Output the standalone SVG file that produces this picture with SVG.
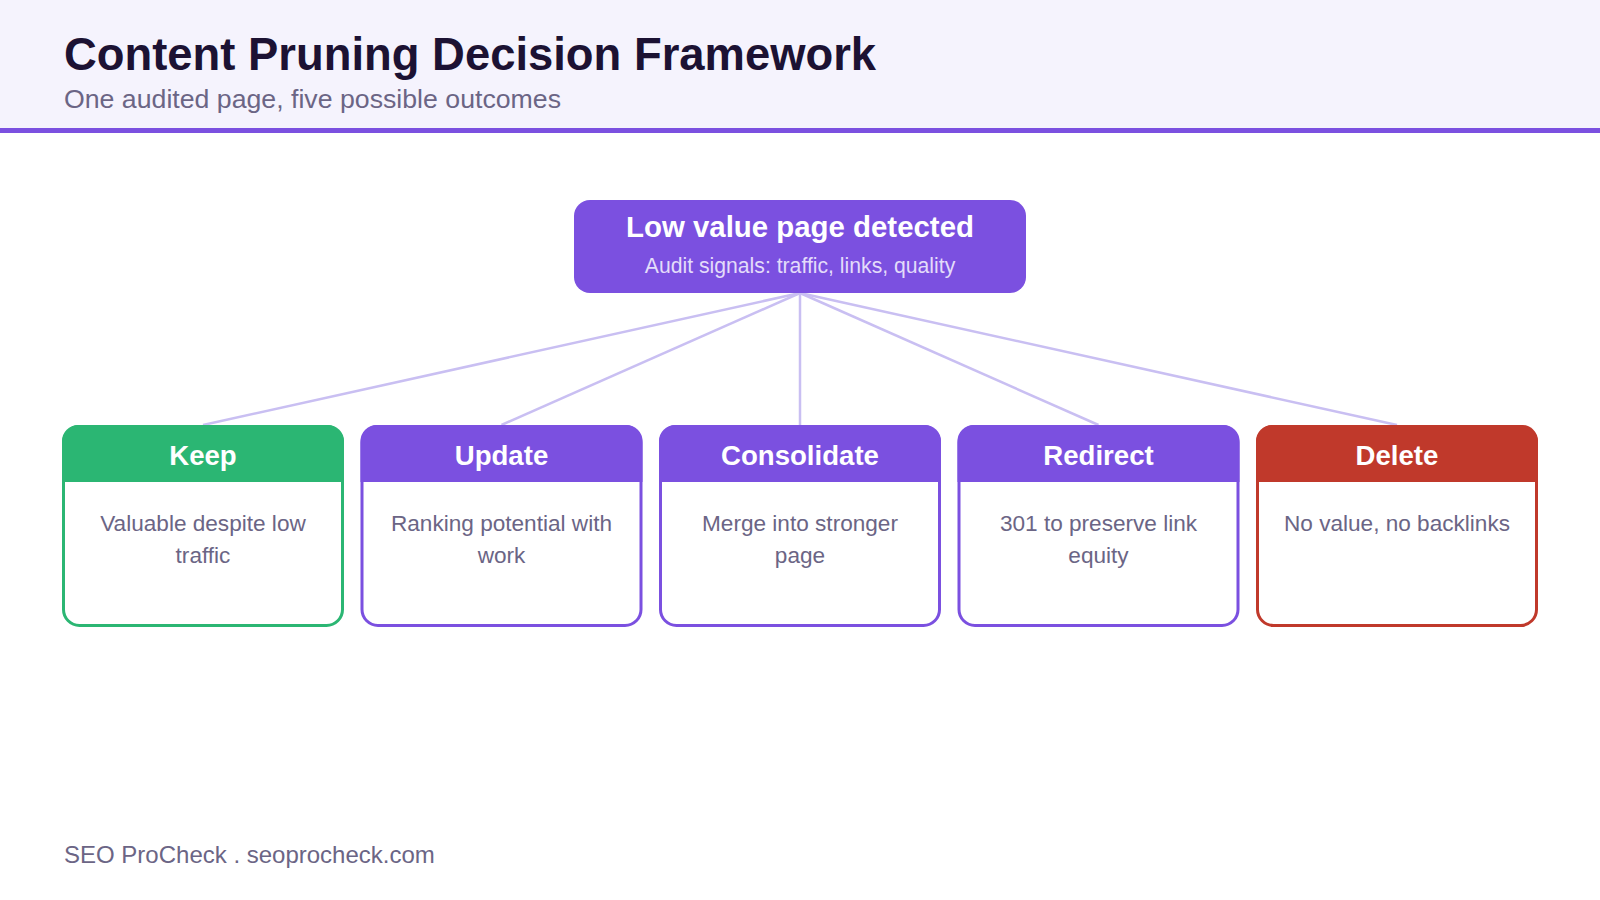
<svg xmlns="http://www.w3.org/2000/svg" width="1600" height="900" viewBox="0 0 1600 900">
  <style>
    .title { font-family: "Liberation Sans", Arial, sans-serif; font-weight: bold; font-size: 45.4px; fill: #1c1233; }
    .subtitle { font-family: "Liberation Sans", Arial, sans-serif; font-size: 26.7px; fill: #6b6585; }
    .footer { font-family: "Liberation Sans", Arial, sans-serif; font-size: 24px; fill: #6b6585; }
    .root-title { font-family: "Liberation Sans", Arial, sans-serif; font-weight: bold; font-size: 29.4px; fill: #ffffff; text-anchor: middle; }
    .root-sub { font-family: "Liberation Sans", Arial, sans-serif; font-size: 21.2px; fill: #e3dcfa; text-anchor: middle; }
    .card-title { font-family: "Liberation Sans", Arial, sans-serif; font-weight: bold; font-size: 27.6px; fill: #ffffff; text-anchor: middle; }
    .card-body { font-family: "Liberation Sans", Arial, sans-serif; font-size: 22.6px; fill: #6b6585; text-anchor: middle; }
    .conn { stroke: #c9bff2; stroke-width: 2.5; fill: none; }
  </style>

  <rect x="0" y="0" width="1600" height="900" fill="#ffffff"/>

  <g id="header">
    <rect x="0" y="0" width="1600" height="129" fill="#f5f3fd"/>
    <rect x="0" y="128" width="1600" height="5" fill="#7b50e0"/>
    <text class="title" x="64" y="70">Content Pruning Decision Framework</text>
    <text class="subtitle" x="64" y="108">One audited page, five possible outcomes</text>
  </g>

  <g id="connectors">
    <line class="conn" x1="800" y1="293" x2="203" y2="425"/>
    <line class="conn" x1="800" y1="293" x2="501.5" y2="425"/>
    <line class="conn" x1="800" y1="293" x2="800" y2="425"/>
    <line class="conn" x1="800" y1="293" x2="1098.5" y2="425"/>
    <line class="conn" x1="800" y1="293" x2="1397" y2="425"/>
  </g>

  <g id="root">
    <rect x="574" y="200" width="452" height="93" rx="16" fill="#7b50e0"/>
    <text class="root-title" x="800" y="237">Low value page detected</text>
    <text class="root-sub" x="800" y="273">Audit signals: traffic, links, quality</text>
  </g>

  <g id="keep">
    <rect x="63.5" y="426.5" width="279" height="199" rx="16" fill="#ffffff" stroke="#2bb673" stroke-width="3"/>
    <path d="M62 482 V441 a16 16 0 0 1 16 -16 H328 a16 16 0 0 1 16 16 V482 Z" fill="#2bb673"/>
    <text class="card-title" x="203" y="465">Keep</text>
    <text class="card-body" x="203" y="531">Valuable despite low</text>
    <text class="card-body" x="203" y="563">traffic</text>
  </g>

  <g id="update">
    <rect x="362" y="426.5" width="279" height="199" rx="16" fill="#ffffff" stroke="#7b50e0" stroke-width="3"/>
    <path d="M360.5 482 V441 a16 16 0 0 1 16 -16 H626.5 a16 16 0 0 1 16 16 V482 Z" fill="#7b50e0"/>
    <text class="card-title" x="501.5" y="465">Update</text>
    <text class="card-body" x="501.5" y="531">Ranking potential with</text>
    <text class="card-body" x="501.5" y="563">work</text>
  </g>

  <g id="consolidate">
    <rect x="660.5" y="426.5" width="279" height="199" rx="16" fill="#ffffff" stroke="#7b50e0" stroke-width="3"/>
    <path d="M659 482 V441 a16 16 0 0 1 16 -16 H925 a16 16 0 0 1 16 16 V482 Z" fill="#7b50e0"/>
    <text class="card-title" x="800" y="465">Consolidate</text>
    <text class="card-body" x="800" y="531">Merge into stronger</text>
    <text class="card-body" x="800" y="563">page</text>
  </g>

  <g id="redirect">
    <rect x="959" y="426.5" width="279" height="199" rx="16" fill="#ffffff" stroke="#7b50e0" stroke-width="3"/>
    <path d="M957.5 482 V441 a16 16 0 0 1 16 -16 H1223.5 a16 16 0 0 1 16 16 V482 Z" fill="#7b50e0"/>
    <text class="card-title" x="1098.5" y="465">Redirect</text>
    <text class="card-body" x="1098.5" y="531">301 to preserve link</text>
    <text class="card-body" x="1098.5" y="563">equity</text>
  </g>

  <g id="delete">
    <rect x="1257.5" y="426.5" width="279" height="199" rx="16" fill="#ffffff" stroke="#c0392b" stroke-width="3"/>
    <path d="M1256 482 V441 a16 16 0 0 1 16 -16 H1522 a16 16 0 0 1 16 16 V482 Z" fill="#c0392b"/>
    <text class="card-title" x="1397" y="465">Delete</text>
    <text class="card-body" x="1397" y="531">No value, no backlinks</text>
  </g>

  <g id="footer">
    <text class="footer" x="64" y="863">SEO ProCheck . seoprocheck.com</text>
  </g>
</svg>
